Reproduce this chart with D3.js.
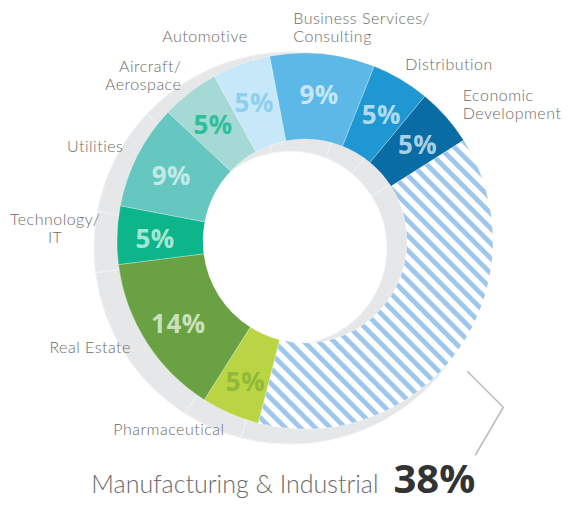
<!DOCTYPE html>
<meta charset="utf-8">
<head>
<script src="https://d3js.org/d3.v7.min.js"></script>
<style type="text/css">
  body { margin: 0; background: #fff; }
  .lbl { font-family: Lato, "Open Sans", sans-serif; font-weight: 300; font-size: 16px; letter-spacing: 0.5px; fill: #6b6b6b; }
  .pct { font-family: "Open Sans", sans-serif; font-weight: 700; font-size: 26px; letter-spacing: 0.5px; }
  .big-name { font-family: Lato, sans-serif; font-weight: 300; font-size: 25px; fill: #6b6b6b; }
  .big-pct { font-family: "Open Sans", sans-serif; font-weight: 700; font-size: 40px; fill: #333; }
</style>
</head>
<body>
<div id="my_dataviz"></div>
<script>

// clockwise, starting at Aircraft/Aerospace
var categories = ["Aircraft/\nAerospace", "Automotive", "Business Services/\nConsulting", "Distribution",
                  "Economic\nDevelopment", "Manufacturing & Industrial", "Pharmaceutical", "Real Estate",
                  "Technology/\nIT", "Utilities"];
var shares = [5, 5, 9, 5, 5, 38, 5, 14, 5, 9];
var highlight = "Manufacturing & Industrial";

var fills      = ["#a4d9d6", "#c7e8f8", "#5cb8e6", "#1f97d3", "#0a6ca5", "url(#hatch)", "#b9d543", "#69a143", "#0db58b", "#66c6c0"];
var textColors = ["#2fbf98", "#8ecff0", "#c6e6f6", "#b0dbf0", "#a8cfe4", "none",        "#91b73b", "#cbe0bc", "#a5e7d4", "#c2eae6"];

var width = 568, height = 506;

var svg = d3.select("#my_dataviz")
  .append("svg")
    .attr("width", width)
    .attr("height", height);

// stripes for the big slice
var pat = svg.append("defs").append("pattern")
    .attr("id", "hatch")
    .attr("patternUnits", "userSpaceOnUse")
    .attr("width", 10.6).attr("height", 10.6)
    .attr("patternTransform", "rotate(-45)");
pat.append("rect").attr("width", 10.6).attr("height", 10.6).attr("fill", "#fff");
pat.append("rect").attr("width", 4.8).attr("height", 10.6).attr("fill", "#9fc7eb");

var color = d3.scaleOrdinal(categories, fills);
var textColor = d3.scaleOrdinal(categories, textColors);

var start = -46.8 * Math.PI / 180;
var pie = d3.pie()
  .sort(null)
  .value(function(d, i) { return shares[i]; })
  .startAngle(start)
  .endAngle(start + 2 * Math.PI);
var slices = pie(categories);

// grey ring behind, a little down and left
var grey = svg.append("g").attr("transform", "translate(290,248)");
grey.selectAll("path")
  .data(slices)
  .enter().append("path")
    .attr("d", d3.arc().innerRadius(97).outerRadius(196))
    .attr("fill", "#e6e7e9")
    .attr("stroke", "#f1f2f3")
    .attr("stroke-width", 1);

// coloured ring
var cx = 305, cy = 241;
var ring = svg.append("g").attr("transform", "translate(" + cx + "," + cy + ")");
ring.selectAll("path")
  .data(slices)
  .enter().append("path")
    .attr("d", d3.arc().innerRadius(102).outerRadius(188))
    .attr("fill", function(d) { return color(d.data); })
    .attr("stroke", "rgba(255,255,255,0.35)")
    .attr("stroke-width", 0.8);

// percentages inside the ring
var labelArc = d3.arc().innerRadius(150).outerRadius(150);
ring.selectAll("text.pct")
  .data(slices.filter(function(d) { return d.data != highlight; }))
  .enter().append("text")
    .attr("class", "pct")
    .attr("transform", function(d) { var c = labelArc.centroid(d); return "translate(" + c[0] + "," + (c[1] + 2) + ")"; })
    .attr("text-anchor", "middle")
    .attr("dominant-baseline", "central")
    .attr("fill", function(d) { return textColor(d.data); })
    .text(function(d) { return d.value + "%"; });

// category names around the ring
var nudge = {
  "Aircraft/\nAerospace":          {anchor: "end",    dx: 2,   dy: -3},
  "Automotive":                    {anchor: "end",    dx: 12,  dy: -11},
  "Business Services/\nConsulting":{anchor: "start",  dx: -31, dy: -9},
  "Distribution":                  {anchor: "start",  dx: -4,  dy: 0},
  "Economic\nDevelopment":         {anchor: "start",  dx: 4,   dy: 0},
  "Pharmaceutical":                {anchor: "end",    dx: 1,   dy: 1},
  "Real Estate":                   {anchor: "end",    dx: -1,  dy: -3},
  "Technology/\nIT":               {anchor: "middle", dx: -45, dy: -6},
  "Utilities":                     {anchor: "end",    dx: 1,   dy: -1}
};
var nameArc = d3.arc().innerRadius(205).outerRadius(205);
var lh = 18;
slices.filter(function(d) { return d.data != highlight; }).forEach(function(d) {
  var c = nameArc.centroid(d), n = nudge[d.data];
  var lines = d.data.split("\n");
  var t = ring.append("text")
    .attr("class", "lbl")
    .attr("text-anchor", n.anchor);
  lines.forEach(function(s, k) {
    t.append("tspan")
      .attr("x", c[0] + n.dx)
      .attr("y", c[1] + n.dy - (lines.length - 1) * lh / 2 + 5 + k * lh)
      .text(s);
  });
});

// leader for the big slice
var big = slices.filter(function(d) { return d.data == highlight; })[0];
var c0 = d3.arc().innerRadius(208).outerRadius(208).centroid(big);
var p0 = [c0[0] - 6, c0[1] + 8];
var tip = [p0[0] + 36, p0[1] + 36], end = [p0[0] + 8, p0[1] + 84];
ring.append("path")
  .attr("d", d3.line()([p0, tip, end]))
  .attr("fill", "none")
  .attr("stroke", "#bdbdbd")
  .attr("stroke-width", 1.6);

var bigPct = ring.append("text")
  .attr("class", "big-pct")
  .attr("text-anchor", "end")
  .attr("x", end[0])
  .attr("y", end[1] + 38)
  .text(big.value + "%");
var bb = bigPct.node().getBBox();
ring.append("text")
  .attr("class", "big-name")
  .attr("text-anchor", "end")
  .attr("x", bb.x - 15)
  .attr("y", end[1] + 38)
  .text(highlight);

</script>
</body>
</html>
